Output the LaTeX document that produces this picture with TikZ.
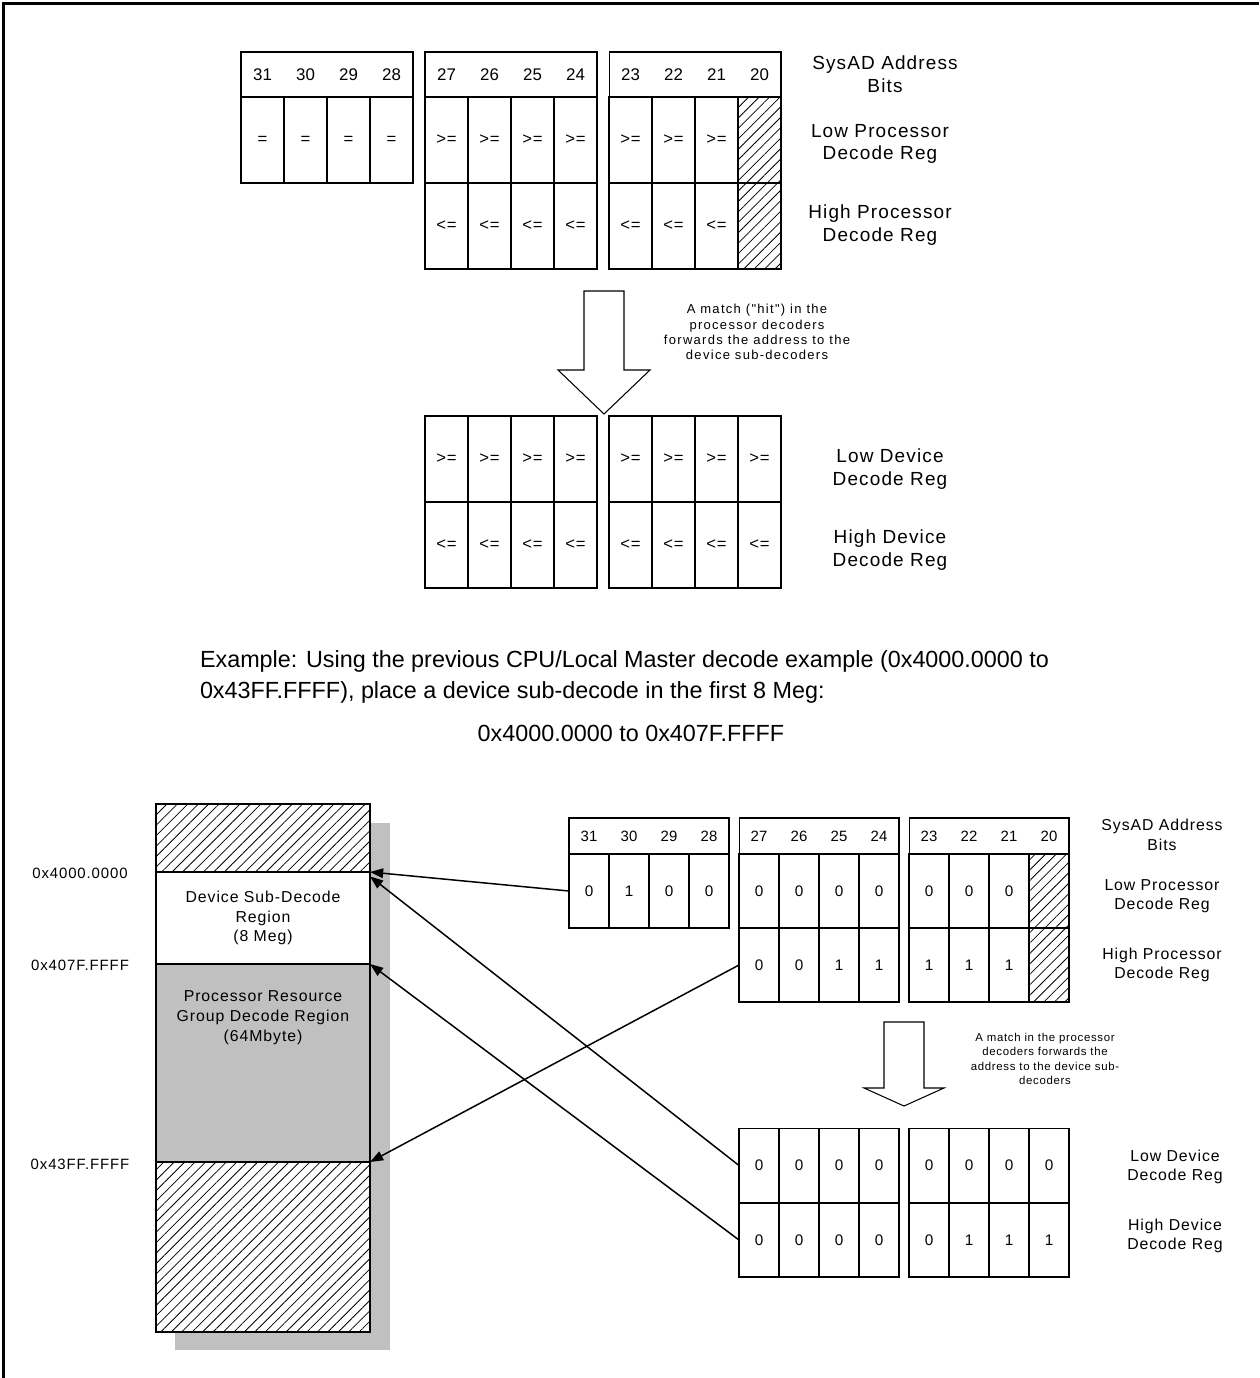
\documentclass[tikz,border=0pt]{standalone}
\usepackage{fontspec}
\setmainfont{Liberation Sans}
\newfontfamily\trk[LetterSpace=6]{Liberation Sans}
\newfontfamily\wtrk[LetterSpace=10]{Liberation Sans}
\usetikzlibrary{arrows.meta,patterns.meta,positioning}
\definecolor{mapgray}{HTML}{C0C0C0}

\begin{document}
\begin{tikzpicture}[x=0.02cm, y=-0.02cm,
  every node/.style={inner sep=0pt, outer sep=0pt},
  box/.style={draw, line width=0.6pt},
  celltop/.style={box, minimum width=0.86cm, minimum height=1.72cm, font=\trk\fontsize{9.5}{11}\selectfont},
  hdrtop/.style={box, minimum width=3.44cm, minimum height=0.9cm},
  numtop/.style={font=\fontsize{9.6}{11}\selectfont},
  cellbot/.style={box, minimum width=0.8cm, minimum height=1.48cm, font=\fontsize{8.7}{10}\selectfont},
  hdrbot/.style={box, minimum width=3.2cm, minimum height=0.72cm},
  numbot/.style={font=\fontsize{8.5}{10}\selectfont},
  hatch/.style={preaction={fill=white}, pattern={Lines[angle=45, distance=4.2pt, line width=0.45pt]}},
  reglbl/.style={align=center, font=\trk\fontsize{10.8}{13}\selectfont},
  reglbls/.style={align=center, font=\trk\fontsize{9}{11}\selectfont},
  note/.style={align=center, font=\wtrk\fontsize{7.4}{8.6}\selectfont},
  notes/.style={align=center, font=\trk\fontsize{6.5}{8.2}\selectfont},
  addr/.style={font=\trk\fontsize{8.5}{10}\selectfont},
  region/.style={align=center, font=\trk\fontsize{9}{11.3}\selectfont},
  bigarr/.style={draw, line width=0.6pt, fill=white},
  arr/.style={-{Triangle[length=7.5pt, width=5.5pt]}, line width=0.85pt}]
\useasboundingbox (0,0) rectangle (1259,1378);
\draw[line width=2pt] (3.5,1378) -- (3.5,3.5) -- (1259,3.5);

% processor decoders, general case
\foreach \x/\bits in {241/{31,30,29,28}, 425/{27,26,25,24}, 609/{23,22,21,20}} {
  \node[hdrtop] (th\x) at (\x+86,74.5) {};
  \foreach \b [count=\i from 0] in \bits
    \node[numtop] (tb\b) at (\x+21.5+43*\i,74.5) {\b};
}
\foreach \v [count=\i from 0] in {=,=,=,=,>=,>=,>=,>=,>=,>=,>=} {
  \pgfmathsetmacro\cx{262.5+184*int(\i/4)+43*mod(\i,4)}
  \node[celltop] (tlp\i) at (\cx,140) {\v};
}
\node[celltop, hatch] (tlp11) at (759.5,140) {};
\foreach \v [count=\i from 4] in {<=,<=,<=,<=,<=,<=,<=} {
  \pgfmathsetmacro\cx{262.5+184*int(\i/4)+43*mod(\i,4)}
  \node[celltop] (thp\i) at (\cx,226) {\v};
}
\node[celltop, hatch] (thp11) at (759.5,226) {};
\node[reglbl] (tsys) at (885,74) {SysAD Address\\Bits};
\node[reglbl] (tlow) at (880,144) {Low Processor\\Decode Reg};
\node[reglbl] (thigh) at (880,225) {High Processor\\Decode Reg};

\draw[bigarr] (584,291) -- (624,291) -- (624,370) -- (650,370) -- (604,414) -- (558,370) -- (584,370) -- cycle;
\node[note] (tnote) at (757,332) {A match ("hit") in the\\processor decoders\\forwards the address to the\\device sub-decoders};

% device sub-decoders, general case
\foreach \v [count=\i from 4] in {>=,>=,>=,>=,>=,>=,>=,>=}{
  \pgfmathsetmacro\cx{262.5+184*int(\i/4)+43*mod(\i,4)}
  \node[celltop] (tld\i) at (\cx,459) {\v};
}
\foreach \v [count=\i from 4] in {<=,<=,<=,<=,<=,<=,<=,<=}{
  \pgfmathsetmacro\cx{262.5+184*int(\i/4)+43*mod(\i,4)}
  \node[celltop] (thd\i) at (\cx,545) {\v};
}
\node[reglbl] (tldl) at (890,469) {Low Device\\Decode Reg};
\node[reglbl] (thdl) at (890,550) {High Device\\Decode Reg};

% example
\node[anchor=west, align=left, font=\fontsize{13.3}{17.6}\selectfont] (ex) at (200,676.5) {Example: Using the previous CPU/Local Master decode example (0x4000.0000 to\\0x43FF.FFFF), place a device sub-decode in the first 8 Meg:};
\node[font=\fontsize{13.3}{15}\selectfont] (range) at (631,733) {0x4000.0000 to 0x407F.FFFF};

% address map
\fill[mapgray] (175,823) rectangle (390,1350);
\node[box, hatch, minimum width=4.28cm, minimum height=1.36cm] (maptop) at (263,838) {};
\node[box, fill=white, minimum width=4.28cm, minimum height=1.84cm, region] (devreg) at (263,918) {Device Sub-Decode\\Region\\(8 Meg)};
\node[box, fill=mapgray, minimum width=4.28cm, minimum height=3.96cm] (procreg) at (263,1063) {};
\node[region] (proctxt) at (263,1018) {Processor Resource\\Group Decode Region\\(64Mbyte)};
\node[box, hatch, minimum width=4.28cm, minimum height=3.4cm] (mapbot) at (263,1247) {};
\node[addr] (a4000) at (80,873) {0x4000.0000};
\node[addr] (a407f) at (80,965) {0x407F.FFFF};
\node[addr] (a43ff) at (80,1164) {0x43FF.FFFF};

% processor decoders, example values
\foreach \x/\bits in {569/{31,30,29,28}, 739/{27,26,25,24}, 909/{23,22,21,20}} {
  \node[hdrbot] (bh\x) at (\x+80,836) {};
  \foreach \b [count=\i from 0] in \bits
    \node[numbot] (bb\b) at (\x+20+40*\i,836) {\b};
}
\foreach \v [count=\i from 0] in {0,1,0,0,0,0,0,0,0,0,0} {
  \pgfmathsetmacro\cx{589+170*int(\i/4)+40*mod(\i,4)}
  \node[cellbot] (blp\i) at (\cx,891) {\v};
}
\node[cellbot, hatch] (blp11) at (1049,891) {};
\foreach \v [count=\i from 4] in {0,0,1,1,1,1,1} {
  \pgfmathsetmacro\cx{589+170*int(\i/4)+40*mod(\i,4)}
  \node[cellbot] (bhp\i) at (\cx,965) {\v};
}
\node[cellbot, hatch] (bhp11) at (1049,965) {};
\node[reglbls] (bsys) at (1162,835) {SysAD Address\\Bits};
\node[reglbls] (blow) at (1162,896) {Low Processor\\Decode Reg};
\node[reglbls] (bhigh) at (1162,965) {High Processor\\Decode Reg};

\draw[bigarr] (884,1022) -- (924,1022) -- (924,1088) -- (944,1088) -- (904,1106) -- (864,1088) -- (884,1088) -- cycle;
\node[notes] (bnote) at (1045,1059) {A match in the processor\\decoders forwards the\\address to the device sub-\\decoders};

% device sub-decoders, example values
\foreach \v [count=\i from 4] in {0,0,0,0,0,0,0,0} {
  \pgfmathsetmacro\cx{589+170*int(\i/4)+40*mod(\i,4)}
  \node[cellbot] (bld\i) at (\cx,1165.5) {\v};
}
\foreach \v [count=\i from 4] in {0,0,0,0,0,1,1,1} {
  \pgfmathsetmacro\cx{589+170*int(\i/4)+40*mod(\i,4)}
  \node[cellbot] (bhd\i) at (\cx,1240) {\v};
}
\node[reglbls] (bldl) at (1175,1167) {Low Device\\Decode Reg};
\node[reglbls] (bhdl) at (1175,1236) {High Device\\Decode Reg};

% hits into the address map
\draw[arr] (blp0.west) -- (devreg.north east);
\draw[arr] (bld4.west) -- ([yshift=-2.5pt]devreg.north east);
\draw[arr] (bhd4.west) -- (procreg.north east);
\draw[arr] (bhp4.west) -- (procreg.south east);
\end{tikzpicture}
\end{document}
